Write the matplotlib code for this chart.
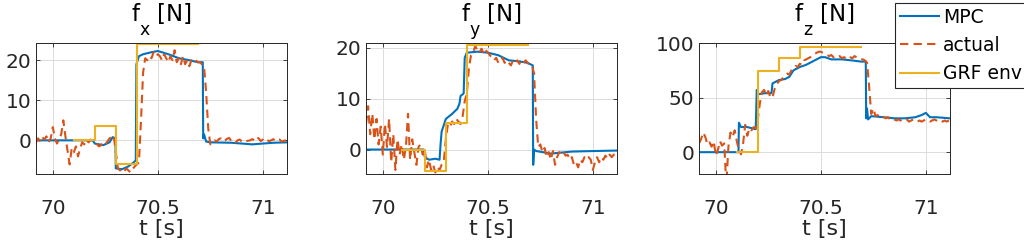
import numpy as np
import matplotlib
matplotlib.use("Agg")
import matplotlib.pyplot as plt

# sampling grid of the measured ("actual") signals, 10 ms steps
t_act = np.round(np.arange(69.92, 71.115, 0.01), 2)

# ---- f_x ----
fx_act = [
    -0.5, 0.5, -0.3, 0.8, 0.2, 1.0, -0.5, 0.5,
    3.3, 0.5, -0.8, 0.3, 1.5, 5.0, 1.0, -2.5, -6.0, -2.0,
    -3.0, -1.5, -4.0, -2.0, -0.5, -1.0, 0.3, -0.5, 0.2, -0.3,
    -0.5, -1.0, -1.5, -1.2, -0.5, -1.0, -0.3, 0.5, 0.8, 1.2,
    -3.0, -7.0, -7.5, -7.2, -7.8, -7.0, -7.5, -8.0, -7.2, -6.5,
    -6.0, -5.5, 5.0, 17.0, 20.5, 20.0, 21.0, 20.5, 22.0, 21.0,
    21.5, 21.0, 20.0, 21.5, 20.5, 19.5, 21.0, 20.0, 22.5, 19.5,
    20.5, 19.0, 21.0, 19.0, 20.0, 18.5, 20.0, 19.5, 20.0, 19.5,
    19.5, 19.0, 18.5, 12.0, 3.0, -1.0, -0.5, 0.0, -0.3, 0.3,
    0.5, -0.2, 0.0, 0.4, 0.6, -0.2, 0.0, -0.5, 0.0, 0.2,
    -0.3, 0.0, -0.2, -0.1, 0.0, 0.3, 0.0, 0.8, 0.5, -0.2,
    0.2, -0.3, 0.1, -0.2, 0.0, 0.3, -0.2, 0.0, 0.2, -0.3, -0.1, 0.0,
]
fx_mpc_t = [69.92, 70.19, 70.20, 70.24, 70.27, 70.285, 70.298, 70.30, 70.33,
            70.36, 70.385, 70.395, 70.398, 70.41, 70.43, 70.47, 70.50, 70.55,
            70.60, 70.65, 70.69, 70.714, 70.716, 70.72, 70.73, 70.75, 70.85,
            70.90, 70.95, 71.00, 71.05, 71.115]
fx_mpc = [0, 0, -0.8, -1.2, -0.5, 0.8, 0.5, -7.0, -7.2,
          -6.5, -5.5, -5.0, 19.0, 21.0, 21.5, 22.0, 22.3, 21.5,
          20.5, 20.0, 19.5, 19.5, 0.5, 1.5, -0.3, -0.5, -0.6,
          -0.8, -1.0, -0.8, -0.6, -0.5]
fx_env_t = [70.1, 70.2, 70.3, 70.4, 70.69]
fx_env = [0, 3.5, -6.0, 24.0, 24.0]

# ---- f_y ----
fy_act = [
    5.0, 8.5, 3.0, 7.0, 2.0, 6.0, 1.0, 4.5,
    -1.0, 5.0, 0.5, 6.0, -2.5, 3.0, -4.0, 2.0, -1.0, 1.0,
    -2.0, 0.5, 7.0, -2.0, 2.0, -0.5, -3.0, 0.5, 1.0, -1.0,
    0.0, -3.5, -2.0, -4.0, -3.0, -4.5, -3.5, -4.0, -3.0, -2.5,
    2.0, 5.0, 4.5, 5.5, 5.0, 6.0, 5.5, 5.0, 6.5, 9.5,
    11.0, 16.0, 18.5, 19.0, 20.3, 19.5, 19.0, 19.8, 18.8, 19.5,
    19.0, 18.5, 18.0, 17.5, 18.0, 17.0, 17.5, 18.0, 17.0, 17.5,
    17.0, 16.5, 17.5, 17.0, 17.5, 16.8, 17.5, 17.0, 17.5, 17.0,
    16.5, 16.5, 15.0, 6.0, 0.5, 1.0, -0.5, 0.3, -1.5, -0.5,
    -2.0, -0.3, -3.0, -1.5, -0.5, -1.0, -0.5, -1.2, -1.0, -2.0,
    -1.5, -3.0, -2.5, -3.5, -2.0, -2.5, -1.5, -2.0, -1.5, -2.0,
    -4.0, -2.5, -1.5, -2.5, -1.5, -2.0, -1.2, -1.8, -1.0, -1.5, -1.0, -0.8,
]
fy_mpc_t = [69.92, 70.195, 70.20, 70.22, 70.25, 70.27, 70.275, 70.28, 70.30,
            70.33, 70.355, 70.365, 70.37, 70.385, 70.39, 70.40, 70.45, 70.50,
            70.55, 70.60, 70.65, 70.69, 70.714, 70.716, 70.72, 70.73, 70.76,
            70.80, 70.85, 70.90, 71.00, 71.115]
fy_mpc = [0, 0, -1.5, -2.0, -1.8, -2.0, 1.0, 3.5, 6.0,
          7.0, 8.0, 9.0, 10.5, 11.0, 18.0, 19.0, 19.2, 19.0,
          18.5, 17.5, 17.3, 17.0, 16.5, -3.0, 0.0, -0.3, -0.5,
          -0.8, -0.6, -0.4, -0.3, -0.2]
fy_env_t = [70.09, 70.2, 70.3, 70.4, 70.69]
fy_env = [0, -4.3, 5.3, 20.6, 20.6]

# ---- f_z ----
fz_act = [
    8, 12, 18, 14, 7, 9, 5, 10,
    -3, 2, 10, 6, 8, -30, 5, 18, 14, 20,
    10, 2, -2, 8, 25, 15, 22, 20, 23, 22,
    30, 45, 55, 57, 52, 56, 50, 50, 58, 62,
    65, 66, 68, 70, 72, 71, 75, 77, 79, 78,
    81, 80, 84, 85, 86, 87, 89, 90, 91, 92,
    92, 91, 90, 89, 88, 89, 87, 88, 87, 88,
    86, 87, 86, 88, 87, 86, 88, 87, 86, 85,
    85, 84, 82, 60, 35, 40, 33, 34, 32, 33,
    32, 31, 32, 30, 31, 30, 29, 30, 29, 30,
    29, 30, 28, 29, 30, 29, 28, 29, 28, 29,
    30, 29, 28, 29, 30, 29, 30, 29, 28, 29, 28, 29,
]
fz_mpc_t = [69.92, 70.108, 70.11, 70.12, 70.15, 70.19, 70.195, 70.20, 70.23,
            70.265, 70.27, 70.30, 70.33, 70.35, 70.37, 70.38, 70.40, 70.43,
            70.45, 70.48, 70.50, 70.52, 70.55, 70.60, 70.65, 70.69, 70.714,
            70.716, 70.72, 70.725, 70.74, 70.80, 70.85, 70.90, 70.95, 70.98,
            71.00, 71.02, 71.05, 71.115]
fz_mpc = [0, 0, 27, 23, 23, 21, 57, 53, 54,
          54, 63, 66, 67, 69, 75, 76, 78, 80,
          82, 85, 87, 87, 85, 85, 84, 83, 83,
          31, 40, 30, 33, 32, 31, 31, 32, 34,
          36, 32, 32, 31]
fz_env_t = [70.1, 70.2, 70.3, 70.4, 70.69]
fz_env = [0, 74, 86, 96, 96]

subs = ["x", "y", "z"]
ylims = [(-8.4, 24.3), (-4.8, 20.9), (-20.0, 100.0)]
yticks = [[0, 10, 20], [0, 10, 20], [0, 50, 100]]

C_MPC = "#0072BD"
C_ACT = "#D95319"
C_ENV = "#EDB120"
AX_COL = "#262626"
TFS = 16.5      # title font size
SFS = 12.5      # subscript font size

fig = plt.figure(figsize=(10.24, 2.49), dpi=100)
lefts = [36, 366, 699]
series = [(fx_mpc_t, fx_mpc, fx_act, fx_env_t, fx_env),
          (fy_mpc_t, fy_mpc, fy_act, fy_env_t, fy_env),
          (fz_mpc_t, fz_mpc, fz_act, fz_env_t, fz_env)]

for i, (mt, mv, av, et, ev) in enumerate(series):
    ax = fig.add_axes([lefts[i] / 1024, 75 / 249, 251 / 1024, 131 / 249])
    l1, = ax.plot(mt, mv, color=C_MPC, lw=1.5, label="MPC")
    l2, = ax.plot(t_act, av, color=C_ACT, lw=1.5, ls=(0, (4, 2.5)), label="actual")
    l3, = ax.plot(et, ev, color=C_ENV, lw=1.5, drawstyle="steps-post", label="GRF env")
    ax.set_xlim(69.92, 71.115)
    ax.set_ylim(*ylims[i])
    ax.set_xticks([70, 70.5, 71])
    ax.set_xticklabels(["70", "70.5", "71"])
    ax.set_yticks(yticks[i])
    ax.grid(True, color="#dcdcdc", lw=0.7)
    ax.set_axisbelow(True)
    for sp in ax.spines.values():
        sp.set_color(AX_COL)
        sp.set_linewidth(0.7)
    ax.tick_params(direction="in", length=3, width=0.6, colors=AX_COL,
                   labelsize=14.5, top=True, right=True)
    ax.tick_params(axis="x", pad=18)
    ax.tick_params(axis="y", pad=3.5)
    ax.set_xlabel("t [s]", fontsize=16, color=AX_COL, labelpad=1)

    # title "f_? [N]" with a MATLAB-like deep subscript
    x0 = -21.5
    kw = dict(xy=(0.5, 1), xycoords="axes fraction", textcoords="offset points",
              ha="left", va="baseline", color="black", annotation_clip=False)
    ax.annotate("f", xytext=(x0, 15.5), fontsize=TFS, **kw)
    ax.annotate(subs[i], xytext=(x0 + 6.0, 6.0), fontsize=SFS, **kw)
    ax.annotate("[N]", xytext=(x0 + 18.0, 15.5), fontsize=TFS, **kw)

leg = fig.legend([l1, l2, l3], ["MPC", "actual", "GRF env"],
                 loc="upper left", bbox_to_anchor=(895 / 1024, 246 / 249),
                 fontsize=13.5, frameon=True, fancybox=False, framealpha=1,
                 edgecolor=AX_COL, handlelength=2.1, handletextpad=0.2,
                 borderpad=0.25, labelspacing=0.5, borderaxespad=0)
leg.get_frame().set_linewidth(0.8)

fig.savefig("out.png", dpi=100)
